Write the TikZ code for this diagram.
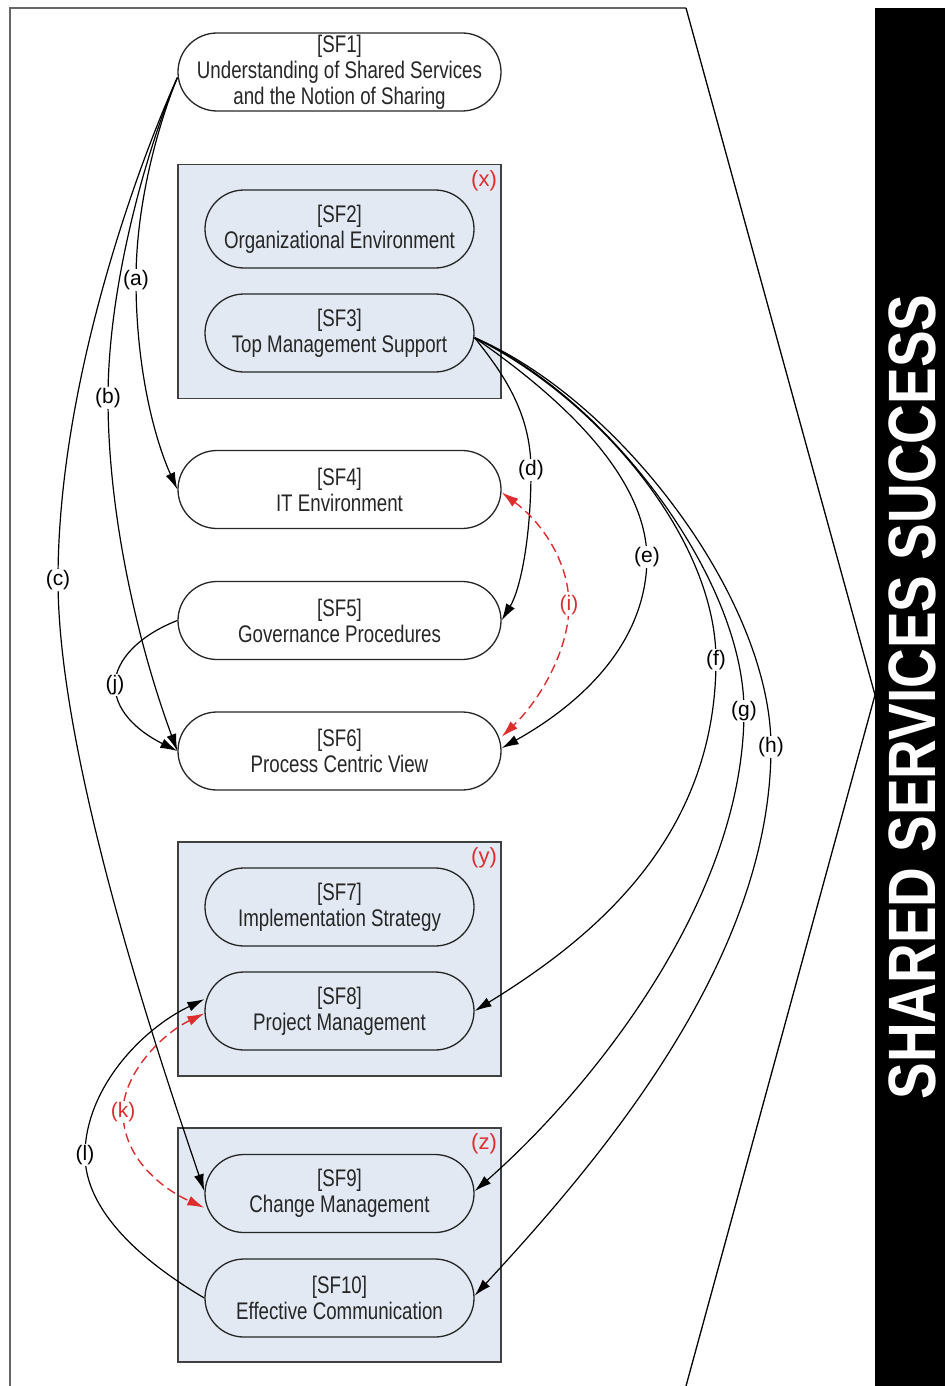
\documentclass[tikz,border=0pt]{standalone}
\usepackage{fontspec}
\setmainfont{Liberation Sans}
\newfontfamily\sffont{Liberation Sans}[FakeStretch=0.78]
\newfontfamily\ttlfont{Liberation Sans}[FakeStretch=0.82]
\usetikzlibrary{arrows.meta}
\definecolor{boxfill}{RGB}{226,233,243}
\definecolor{lblred}{RGB}{222,45,45}

\begin{document}
\begin{tikzpicture}[x=1pt,y=-1pt,
  sf/.style={rectangle, rounded corners=39pt, draw=black!85, line width=1.3pt,
    minimum width=323pt, minimum height=78pt, inner sep=0pt, align=center,
    font=\sffont\fontsize{24}{26}\selectfont, text=black!85},
  sfin/.style={sf, minimum width=269pt},
  group/.style={draw=black!75, line width=1.4pt, fill=boxfill,
    minimum width=323pt, minimum height=234pt, inner sep=0pt},
  tag/.style={text=lblred, font=\fontsize{22}{24}\selectfont, inner sep=0pt},
  lbl/.style={fill=white, inner sep=1pt, font=\fontsize{21}{24}\selectfont},
  rlbl/.style={lbl, text=lblred},
  arr/.style={draw=black, line width=1.2pt, -{Latex[length=17pt,width=10pt]}},
  darr/.style={draw=lblred, line width=1.4pt, dash pattern=on 9pt off 5pt,
    {Latex[length=17pt,width=10pt]}-{Latex[length=17pt,width=10pt]}},
]
\useasboundingbox (0,0) rectangle (945,1386);

% frame pointing towards the outcome bar
\draw[line width=2pt, draw=black!60] (10,1386) -- (10,8) -- (686,8);
\draw[line width=1.3pt] (686,8) -- (875,695) -- (686,1386);

% outcome bar
\fill[black] (875,8) rectangle (945,1386);
\node[rotate=90, anchor=base, text=white, inner sep=0pt,
  text height=48pt, text depth=0pt,
  font=\ttlfont\bfseries\fontsize{67}{70}\selectfont] (title) at (935,697)
  {SHARED SERVICES SUCCESS};

% factor groups
\node[group] (gx) at (339.5,281.5) {};
\node[group] (gy) at (339.5,959) {};
\node[group] (gz) at (339.5,1245) {};
\node[tag] (tx) at (484,181) {(x)};
\node[tag] (ty) at (484,858) {(y)};
\node[tag] (tz) at (484,1144) {(z)};

% success factors
\node[sf] (sf1) at (339.5,72) {[SF1]\\Understanding of Shared Services\\and the Notion of Sharing};
\node[sfin] (sf2) at (339.5,229) {[SF2]\\Organizational Environment};
\node[sfin] (sf3) at (339.5,333) {[SF3]\\Top Management Support};
\node[sf] (sf4) at (339.5,489.5) {[SF4]\\IT Environment};
\node[sf] (sf5) at (339.5,620.5) {[SF5]\\Governance Procedures};
\node[sf] (sf6) at (339.5,751) {[SF6]\\Process Centric View};
\node[sfin] (sf7) at (339.5,907) {[SF7]\\Implementation Strategy};
\node[sfin] (sf8) at (339.5,1011) {[SF8]\\Project Management};
\node[sfin] (sf9) at (339.5,1193.5) {[SF9]\\Change Management};
\node[sfin] (sf10) at (339.5,1298) {[SF10]\\Effective Communication};

% relationships from SF1
\draw[arr] (sf1.182) .. controls (160,120) and (136,200) .. (136,280) node[lbl] (la) {(a)}
  .. controls (136,370) and (155,440) .. (sf4.west);
\draw[arr] (sf1.182) .. controls (150,140) and (108,280) .. (108,398) node[lbl] (lb) {(b)}
  .. controls (108,520) and (140,650) .. (sf6.west);
\draw[arr] (sf1.182) .. controls (140,160) and (58,380) .. (58,580) node[lbl] (lc) {(c)}
  .. controls (58,760) and (160,1060) .. (sf9.179);

% relationships from SF3
\draw[arr] (sf3.358) .. controls (500,370) and (531,410) .. (531,470) node[lbl] (ld) {(d)}
  .. controls (531,540) and (520,590) .. (sf5.east);
\draw[arr] (sf3.358) .. controls (550,390) and (645,470) .. (647,557) node[lbl] (le) {(e)}
  .. controls (647,650) and (570,710) .. (sf6.1);
\draw[arr] (sf3.358) .. controls (600,400) and (716,540) .. (716,660) node[lbl] (lf) {(f)}
  .. controls (716,840) and (590,940) .. (sf8.east);
\draw[arr] (sf3.358) .. controls (610,400) and (744,580) .. (744,711) node[lbl] (lg) {(g)}
  .. controls (744,900) and (590,1090) .. (sf9.1);
\draw[arr] (sf3.358) .. controls (620,400) and (771,600) .. (771,747) node[lbl] (lh) {(h)}
  .. controls (771,960) and (600,1160) .. (sf10.1);

% mutual relationships
\draw[darr] (sf4.359) .. controls (545,525) and (569,565) .. (569,605) node[rlbl] (li) {(i)}
  .. controls (569,650) and (540,700) .. (sf6.5);
\draw[darr] (sf8.181) .. controls (160,1035) and (123,1075) .. (123,1112) node[rlbl] (lk) {(k)}
  .. controls (123,1160) and (165,1190) .. (sf9.186);

% remaining relationships
\draw[arr] (sf5.west) .. controls (140,635) and (115,660) .. (115,685) node[lbl] (lj) {(j)}
  .. controls (115,715) and (145,735) .. (sf6.west);
\draw[arr] (sf10.west) .. controls (140,1260) and (85,1210) .. (85,1155) node[lbl] (ll) {(l)}
  .. controls (85,1090) and (140,1030) .. (sf8.175);
\end{tikzpicture}
\end{document}
